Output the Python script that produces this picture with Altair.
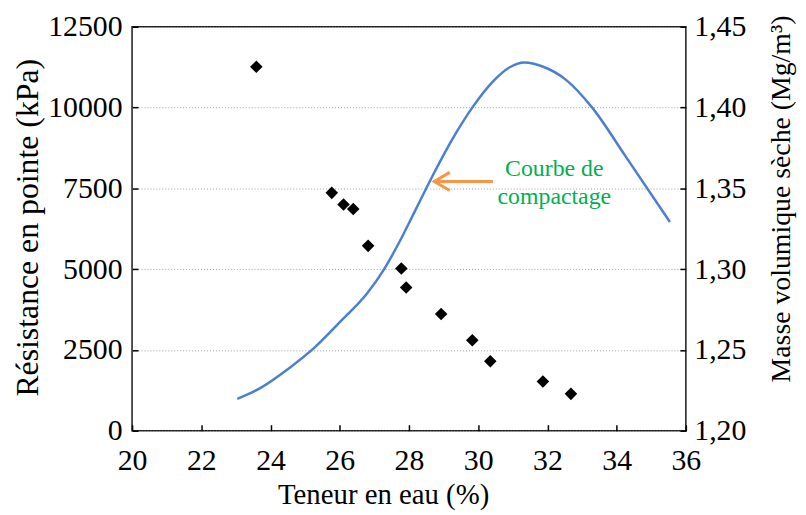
import altair as alt
import pandas as pd

# ---- data ----
teneur_points = [23.59, 25.77, 26.11, 26.39, 26.82, 27.78, 27.92, 28.93, 29.83, 30.35, 31.87, 32.68]
resistance = [11260, 7360, 7000, 6860, 5720, 5020, 4430, 3610, 2800, 2150, 1520, 1140]

teneur_courbe = [23.04, 23.74, 24.50, 25.27, 26.03, 26.80, 27.27, 27.75, 28.23, 28.71,
                 29.28, 29.86, 30.43, 30.90, 31.34, 31.86, 32.53, 33.30, 34.25, 35.54]
masse_volumique = [1.2197, 1.2268, 1.2381, 1.2514, 1.2678, 1.2852, 1.2995, 1.3179, 1.3384, 1.3589,
                   1.3814, 1.4009, 1.4162, 1.4248, 1.4279, 1.4254, 1.4173, 1.3998, 1.3701, 1.3292]

x_ticks = [20, 22, 24, 26, 28, 30, 32, 34, 36]
left_ticks = [0, 2500, 5000, 7500, 10000, 12500]
right_ticks = [1.20, 1.25, 1.30, 1.35, 1.40, 1.45]

annotation_lines = ["Courbe de", "compactage"]
annotation_x = [32.2, 32.2]
annotation_y = [7893, 7024]

arrow_part = ["shaft", "shaft", "head", "head", "head"]
arrow_order = [0, 1, 0, 1, 2]
arrow_x = [30.43, 28.73, 29.18, 28.73, 29.18]
arrow_y = [7709, 7709, 7994, 7709, 7432]

FONT = "Liberation Serif"
BLUE = "#4A7FD1"
ORANGE = "#F79646"
GREEN = "#00B050"

pts = pd.DataFrame({"teneur": teneur_points, "resistance": resistance})
curve = pd.DataFrame({"teneur": teneur_courbe, "masse": masse_volumique})
arrow = pd.DataFrame({"part": arrow_part, "order": arrow_order, "teneur": arrow_x, "resistance": arrow_y})
notes = pd.DataFrame({"teneur": annotation_x, "resistance": annotation_y, "label": annotation_lines})

xs = alt.Scale(domain=[20, 36], nice=False, zero=False)
ysl = alt.Scale(domain=[0, 12500], nice=False, zero=False)
ysr = alt.Scale(domain=[1.20, 1.45], nice=False, zero=False)

lab = dict(labelFont=FONT, labelFontSize=30, labelColor="black", labelOverlap=False, labelFlush=False)
tit = dict(titleFont=FONT, titleFontWeight="normal", titleColor="black", titleAlign="center")

x_main = alt.X("teneur:Q", scale=xs, axis=alt.Axis(
    orient="bottom", values=x_ticks, format="d", domain=False, ticks=False, grid=False,
    labelPadding=15, title="Teneur en eau (%)", titleFontSize=29, titleX=253, titleY=73,
    titleBaseline="alphabetic", **lab, **tit))
x_none = alt.X("teneur:Q", scale=xs, axis=None)
x_ticks_ax = alt.X("teneur:Q", scale=xs, axis=alt.Axis(
    orient="bottom", values=x_ticks, offset=-6, domain=False, labels=False, grid=False,
    ticks=True, tickSize=6, tickColor="black", tickWidth=1.5, title=None))

y_left_main = alt.Y("resistance:Q", scale=ysl, axis=alt.Axis(
    orient="left", values=left_ticks, format="d", domain=False, ticks=False,
    grid=True, gridColor="#a0a0a0", gridDash=[1, 2], gridWidth=1,
    labelPadding=10, title="Résistance en pointe (kPa)", titleFontSize=32,
    titleAngle=270, titleX=-105, titleY=202, titleBaseline="middle", **lab, **tit))
y_left_ticks = alt.Y("resistance:Q", scale=ysl, axis=alt.Axis(
    orient="left", values=left_ticks, offset=-6, domain=False, labels=False, grid=False,
    ticks=True, tickSize=6, tickColor="black", tickWidth=1.5, title=None))
y_left_none = alt.Y("resistance:Q", scale=ysl, axis=None)

y_right_main = alt.Y("masse:Q", scale=ysr, axis=alt.Axis(
    orient="right", values=right_ticks, domain=False, ticks=False, grid=False,
    labelExpr="replace(format(datum.value, '.2f'), '.', ',')",
    labelPadding=8, title="Masse volumique sèche (Mg/m³)", titleFontSize=28,
    titleAngle=270, titleX=96, titleY=173, titleBaseline="middle", **lab, **tit))
y_right_ticks = alt.Y("masse:Q", scale=ysr, axis=alt.Axis(
    orient="right", values=right_ticks, offset=-6, domain=False, labels=False, grid=False,
    ticks=True, tickSize=6, tickColor="black", tickWidth=1.5, title=None))

points = alt.Chart(pts).mark_point(shape="diamond", filled=True, color="black", size=160, opacity=1).encode(
    x=x_main, y=y_left_main)
line = alt.Chart(curve).mark_line(color=BLUE, strokeWidth=2.5, interpolate="monotone").encode(
    x=x_none, y=y_right_main)
ticks_lb = alt.Chart(pts).mark_point(opacity=0).encode(x=x_ticks_ax, y=y_left_ticks)
ticks_r = alt.Chart(curve).mark_line(opacity=0).encode(x=x_none, y=y_right_ticks)
arrow_layer = alt.Chart(arrow).mark_line(color=ORANGE, strokeWidth=3).encode(
    x=x_none, y=y_left_none, detail="part:N", order="order:Q")
text_layer = alt.Chart(notes).mark_text(font=FONT, fontSize=24, color=GREEN, align="center",
                                        baseline="alphabetic").encode(
    x=x_none, y=y_left_none, text="label:N")

chart = alt.layer(points, line, ticks_lb, ticks_r, arrow_layer, text_layer).resolve_scale(
    y="independent").resolve_axis(x="independent", y="independent").properties(
    width=558, height=407,
    autosize=alt.AutoSizeParams(type="none"),
    padding={"left": 125, "top": 17, "right": 113, "bottom": 80},
).configure_view(stroke="#1a1a1a", strokeWidth=1.5)

chart.save("out.html", embed_options={"renderer": "svg", "actions": False})
